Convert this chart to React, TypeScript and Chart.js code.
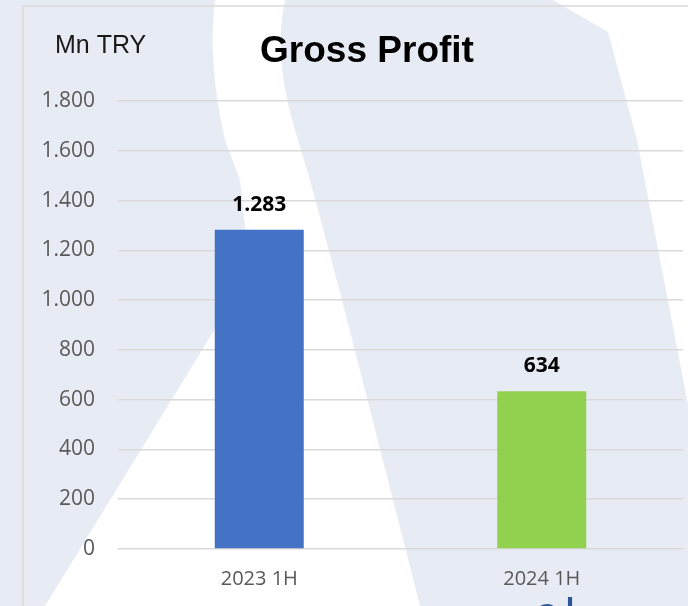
import React, { useEffect, useRef } from "react";
import { Chart, registerables } from "chart.js";

Chart.register(...registerables);

const categories = ["2023 1H", "2024 1H"];
const grossProfit = [1283, 634];
const barColors = ["#4472C4", "#92D050"];
const yMin = 0;
const yMax = 1800;
const yStep = 200;
const chartTitle = "Gross Profit";
const unitLabel = "Mn TRY";

const fmt = (v: number) => String(Math.round(v)).replace(/\B(?=(\d{3})+(?!\d))/g, ".");

const backgroundPlugin = {
  id: "bgShapes",
  beforeDraw(chart: any) {
    const ctx = chart.ctx;
    const W = chart.width;
    const H = chart.height;
    ctx.save();
    ctx.fillStyle = "#E7ECF4";
    ctx.fillRect(0, 0, W, H);
    ctx.fillStyle = "#FFFFFF";
    // curved stripe widening into an "A" shape
    ctx.beginPath();
    ctx.moveTo(215, 0);
    ctx.quadraticCurveTo(207, 60, 225, 140);
    ctx.lineTo(240, 180);
    ctx.lineTo(250, 272);
    ctx.lineTo(45, 606);
    ctx.lineTo(420, 606);
    ctx.lineTo(342, 300);
    ctx.lineTo(310, 180);
    ctx.lineTo(298, 140);
    ctx.quadraticCurveTo(272, 60, 285, 0);
    ctx.closePath();
    ctx.fill();
    // top right white region
    ctx.beginPath();
    ctx.moveTo(553, 0);
    ctx.lineTo(W, 0);
    ctx.lineTo(W, 405);
    ctx.lineTo(637, 140);
    ctx.lineTo(608, 32);
    ctx.closePath();
    ctx.fill();
    // frame lines
    ctx.strokeStyle = "#D9D9D9";
    ctx.lineWidth = 1.5;
    ctx.beginPath();
    ctx.moveTo(22, 6);
    ctx.lineTo(W, 6);
    ctx.moveTo(23, 6);
    ctx.lineTo(23, H);
    ctx.stroke();
    // partial logo text at bottom
    ctx.fillStyle = "#2F5597";
    ctx.font = "600 36px 'Open Sans'";
    ctx.textAlign = "left";
    ctx.textBaseline = "alphabetic";
    ctx.fillText("a", 537, 624);
    ctx.fillText("l", 565, 624);
    // titles
    ctx.fillStyle = "#000000";
    ctx.font = "bold 37px 'Liberation Sans', Arial";
    ctx.textAlign = "center";
    ctx.fillText(chartTitle, 367, 62);
    ctx.fillStyle = "#1a1a1a";
    ctx.font = "25px 'Liberation Sans', Arial";
    ctx.textAlign = "left";
    ctx.fillText(unitLabel, 55, 53);
    ctx.restore();
  },
};

const valueLabelPlugin = {
  id: "valueLabels",
  afterDatasetsDraw(chart: any) {
    const ctx = chart.ctx;
    const meta = chart.getDatasetMeta(0);
    const data = chart.data.datasets[0].data as number[];
    ctx.save();
    ctx.fillStyle = "#000000";
    ctx.font = "bold 21px 'Open Sans'";
    ctx.textAlign = "center";
    ctx.textBaseline = "middle";
    meta.data.forEach((bar: any, i: number) => {
      ctx.fillText(fmt(data[i]), bar.x, bar.y - 25);
    });
    ctx.restore();
  },
};

export default function App() {
  const ref = useRef<HTMLCanvasElement | null>(null);
  useEffect(() => {
    document.body.style.margin = "0";
    const canvas = ref.current;
    if (!canvas) return;
    const chart = new Chart(canvas, {
      type: "bar",
      data: {
        labels: categories,
        datasets: [
          {
            data: grossProfit,
            backgroundColor: barColors,
            borderWidth: 0,
            categoryPercentage: 1,
            barPercentage: 0.315,
          },
        ],
      },
      options: {
        animation: false,
        responsive: false,
        maintainAspectRatio: false,
        layout: { padding: { top: 101, right: 5, left: 0, bottom: 0 } },
        plugins: {
          legend: { display: false },
          title: { display: false },
          tooltip: { enabled: false },
        },
        scales: {
          x: {
            grid: { display: false, drawTicks: false },
            border: { display: false },
            ticks: {
              color: "#595959",
              font: { family: "'Open Sans'", size: 20 },
              padding: 18,
            },
            afterFit: (s: any) => {
              s.height = 57;
            },
          },
          y: {
            min: yMin,
            max: yMax,
            grid: { color: "#D9D9D9", lineWidth: 1.5, drawTicks: false },
            border: { display: false },
            ticks: {
              stepSize: yStep,
              color: "#595959",
              font: { family: "'Open Sans'", size: 21 },
              padding: 23,
              callback: (v: any) => fmt(Number(v)),
            },
            afterFit: (s: any) => {
              s.width = 118;
            },
          },
        },
      },
      plugins: [backgroundPlugin, valueLabelPlugin],
    });
    return () => chart.destroy();
  }, []);
  return (
    <canvas
      ref={ref}
      width={688}
      height={606}
      style={{ display: "block", width: 688, height: 606 }}
    />
  );
}
